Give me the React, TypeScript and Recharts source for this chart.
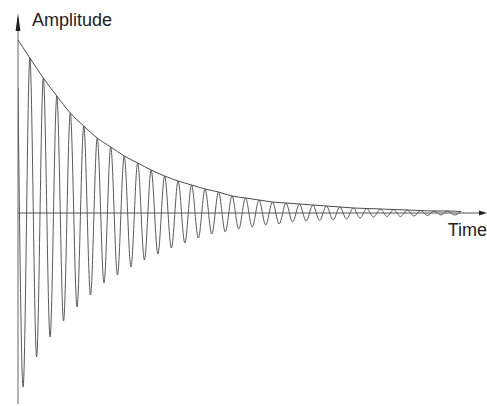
import React from 'react';
import { LineChart, Line, XAxis, YAxis, ReferenceLine } from 'recharts';

// Damped oscillation (time in oscillation periods, amplitude in arbitrary units)
const startTime = 0;
const startValue = 125;

const troughTimes = [
  0.38, 1.38, 2.38, 3.38, 4.38, 5.38, 6.38, 7.38, 8.38, 9.38, 10.38, 11.38, 12.38, 13.38, 14.38, 15.38, 16.38,
  17.38, 18.38, 19.38, 20.38, 21.38, 22.38, 23.38, 24.38, 25.38, 26.38, 27.38, 28.38, 29.38, 30.38, 31.38, 32.38,
];
const troughValues = [
  -174, -144, -124, -108, -94, -82, -70, -62, -54, -47, -41, -35, -30, -25, -21, -19, -16,
  -14, -12, -11, -9, -8, -7.5, -7, -6, -5, -4, -3.5, -3.5, -3, -2.5, -2, -2,
];

const peakTimes = [
  0.88, 1.88, 2.88, 3.88, 4.88, 5.88, 6.88, 7.88, 8.88, 9.88, 10.88, 11.88, 12.88, 13.88, 14.88, 15.88, 16.88,
  17.88, 18.88, 19.88, 20.88, 21.88, 22.88, 23.88, 24.88, 25.88, 26.88, 27.88, 28.88, 29.88, 30.88, 31.88, 32.88,
];
const peakValues = [
  155, 135, 117, 100, 87, 75, 66, 57, 50, 43, 37, 32, 28, 24, 21, 17, 15,
  13, 11, 10, 9, 8, 7, 6, 5, 4.5, 4, 3.5, 3, 2.5, 2, 2, 1.5,
];

const envelopeStart = 173;

const timeDomain: [number, number] = [0, 34.8];
const amplitudeDomain: [number, number] = [-191, 201];

const axisTitleY = 'Amplitude';
const axisTitleX = 'Time';

const signalData: { t: number; v: number }[] = [{ t: startTime, v: startValue }];
troughTimes.forEach((t, i) => {
  signalData.push({ t, v: troughValues[i] });
  signalData.push({ t: peakTimes[i], v: peakValues[i] });
});

const envelopeData = [
  { t: startTime, v: envelopeStart },
  ...peakTimes.map((t, i) => ({ t, v: peakValues[i] })),
];

const FONT = '"Liberation Sans", Arial, Helvetica, sans-serif';

const VerticalAxisShape = (props: any) => {
  const { x1, y1, y2 } = props;
  const top = Math.min(y1, y2);
  const bottom = Math.max(y1, y2);
  return (
    <g>
      <line x1={x1} y1={top + 6} x2={x1} y2={bottom} stroke="#808080" strokeWidth={1.2} />
      <polygon
        points={`${x1},${top + 1} ${x1 - 2.4},${top + 19} ${x1 + 2.4},${top + 19}`}
        fill="#222"
      />
      <text x={x1 + 14} y={top + 14} fontFamily={FONT} fontSize={18} fill="#222">
        {axisTitleY}
      </text>
    </g>
  );
};

const HorizontalAxisShape = (props: any) => {
  const { x1, x2, y1 } = props;
  const left = Math.min(x1, x2);
  const right = Math.max(x1, x2);
  return (
    <g>
      <line x1={left} y1={y1} x2={right - 6} y2={y1} stroke="#555" strokeWidth={1} />
      <polygon
        points={`${right},${y1} ${right - 8},${y1 - 2.5} ${right - 8},${y1 + 2.5}`}
        fill="#222"
      />
      <text x={right} y={y1 + 23} textAnchor="end" fontFamily={FONT} fontSize={18} fill="#222">
        {axisTitleX}
      </text>
    </g>
  );
};

export default function App() {
  return (
    <div style={{ position: 'absolute', left: 0, top: 0, background: '#fff' }}>
      <LineChart width={487} height={406} margin={{ top: 12, right: 0, bottom: 2, left: 18 }}>
        <XAxis type="number" dataKey="t" domain={timeDomain} allowDataOverflow hide />
        <YAxis type="number" dataKey="v" domain={amplitudeDomain} allowDataOverflow hide />
        <ReferenceLine x={0} shape={VerticalAxisShape} />
        <ReferenceLine y={0} shape={HorizontalAxisShape} />
        <Line
          data={signalData}
          dataKey="v"
          type="monotone"
          stroke="#5a5a5a"
          strokeWidth={1}
          dot={false}
          isAnimationActive={false}
        />
        <Line
          data={envelopeData}
          dataKey="v"
          type="monotone"
          stroke="#4a4a4a"
          strokeWidth={1}
          dot={false}
          isAnimationActive={false}
        />
      </LineChart>
    </div>
  );
}
